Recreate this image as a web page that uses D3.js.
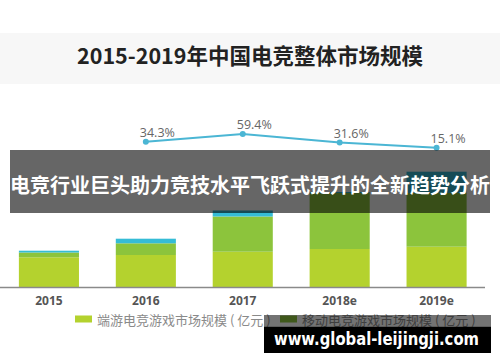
<!DOCTYPE html>
<html><head><meta charset="utf-8">
<script src="https://cdn.jsdelivr.net/npm/d3@7/dist/d3.min.js"></script>
<style>html,body{margin:0;padding:0;background:#fff;}svg{display:block;}</style>
</head><body>
<script>
const categories = ["2015","2016","2017","2018e","2019e"];
const pcValues = [297, 320, 353, 380, 403];       // 端游电竞游戏市场规模（亿元）
const mobileValues = [48, 117, 352, 560, 537];    // 移动电竞游戏市场规模（亿元）
const otherValues = [18, 46, 60, 10, 213];        // third (cyan) segment
const growthYears = ["2016","2017","2018e","2019e"];
const growthValues = [34.3, 59.4, 31.6, 15.1];
const legendLabels = ["端游电竞游戏市场规模 ( 亿元 )", "移动电竞游戏市场规模 ( 亿元 )"];
const title = "2015-2019年中国电竞整体市场规模";
const banner = "电竞行业巨头助力竞技水平飞跃式提升的全新趋势分析";
const watermark = "www.global-leijingji.com";

const W = 500, H = 362;
const colors = {pc:"#b4d22e", mobile:"#8cc43c", other:"#35bcd6", line:"#4bb6d4"};
const svg = d3.select("body").append("svg").attr("width", W).attr("height", H);

svg.append("rect").attr("width", W).attr("height", H).attr("fill", "#fff");
svg.append("rect").attr("x", 0).attr("y", 33).attr("width", W).attr("height", 51).attr("fill", "#f7f7f7");

svg.append("text").attr("x", 250).attr("y", 64).attr("text-anchor", "middle")
  .attr("font-family", "'Noto Sans CJK SC', sans-serif").attr("font-weight", 700)
  .attr("font-size", 21.5).attr("fill", "#222").text(title);

const x = d3.scaleBand().domain(categories).range([-0.5, 486]).paddingInner(0.38).paddingOuter(0.2);
const y = d3.scaleLinear().domain([0, 1200]).range([287, 167]);

const rows = categories.map((c, i) => ({c, pc: pcValues[i], mobile: mobileValues[i], other: otherValues[i]}));
const stack = d3.stack().keys(["pc", "mobile", "other"])(rows);
svg.append("g").selectAll("g").data(stack).join("g")
  .attr("fill", d => colors[d.key])
  .selectAll("rect").data(d => d).join("rect")
  .attr("x", d => x(d.data.c)).attr("width", x.bandwidth())
  .attr("y", d => y(d[1])).attr("height", d => y(d[0]) - y(d[1]));

// baseline
svg.append("line").attr("x1", 0).attr("x2", 485).attr("y1", 287.5).attr("y2", 287.5)
  .attr("stroke", "#8a8a8a").attr("stroke-width", 1.5);

// x labels
const xAxis = d3.axisBottom(x).tickSize(0).tickPadding(0);
const gx = svg.append("g").attr("transform", "translate(0,296)").call(xAxis);
gx.select(".domain").remove();
gx.selectAll("text").attr("font-family", "'Noto Sans', sans-serif").attr("font-weight", 700)
  .attr("font-size", 12).attr("fill", "#555").attr("dy", "0.71em");

// growth line
const yp = d3.scaleLinear().domain([0, 100]).range([152.3, 121.6]);
const pts = growthYears.map((c, i) => ({c, v: growthValues[i]}));
const cx = d => x(d.c) + x.bandwidth() / 2;
svg.append("path").datum(pts).attr("fill", "none").attr("stroke", colors.line).attr("stroke-width", 2)
  .attr("d", d3.line().x(cx).y(d => yp(d.v)));
svg.append("g").selectAll("circle").data(pts).join("circle")
  .attr("cx", cx).attr("cy", d => yp(d.v)).attr("r", 3).attr("fill", colors.line);
svg.append("g").selectAll("text").data(pts).join("text")
  .attr("x", d => cx(d) - 6).attr("y", d => yp(d.v) - 5)
  .attr("font-family", "'Open Sans', sans-serif").attr("font-size", 12.5).attr("fill", "#666")
  .text(d => d.v.toFixed(1) + "%");

// legend
const legend = [{label: legendLabels[0], color: colors.pc, x: 75}, {label: legendLabels[1], color: colors.mobile, x: 280}];
const lg = svg.append("g").selectAll("g").data(legend).join("g").attr("transform", d => `translate(${d.x},315.5)`);
lg.append("rect").attr("width", 17).attr("height", 7).attr("fill", d => d.color);
lg.append("text").attr("x", 22).attr("y", 9.5).attr("font-family", "'Noto Sans CJK SC', sans-serif")
  .attr("font-size", 13).attr("fill", "#8a8a8a").text(d => d.label);

// banner overlay
svg.append("rect").attr("x", 10).attr("y", 150).attr("width", 480).attr("height", 63).attr("fill", "rgba(0,0,0,0.6)");
svg.append("text").attr("x", 250).attr("y", 192.5).attr("text-anchor", "middle")
  .attr("font-family", "'Noto Sans CJK SC', sans-serif").attr("font-weight", 700)
  .attr("font-size", 20).attr("fill", "#fff").text(banner);

// watermark
svg.append("rect").attr("x", 264).attr("y", 315).attr("width", 227).attr("height", 11.5).attr("fill", "rgba(0,0,0,0.55)");
svg.append("rect").attr("x", 264).attr("y", 326.5).attr("width", 227).attr("height", 26.5).attr("fill", "#000");
svg.append("text").attr("x", 274).attr("y", 345).attr("textLength", 205).attr("lengthAdjust", "spacingAndGlyphs")
  .attr("font-family", "'DejaVu Sans', sans-serif").attr("font-weight", 700)
  .attr("font-size", 18).attr("fill", "#fff").text(watermark);
</script>
</body></html>
